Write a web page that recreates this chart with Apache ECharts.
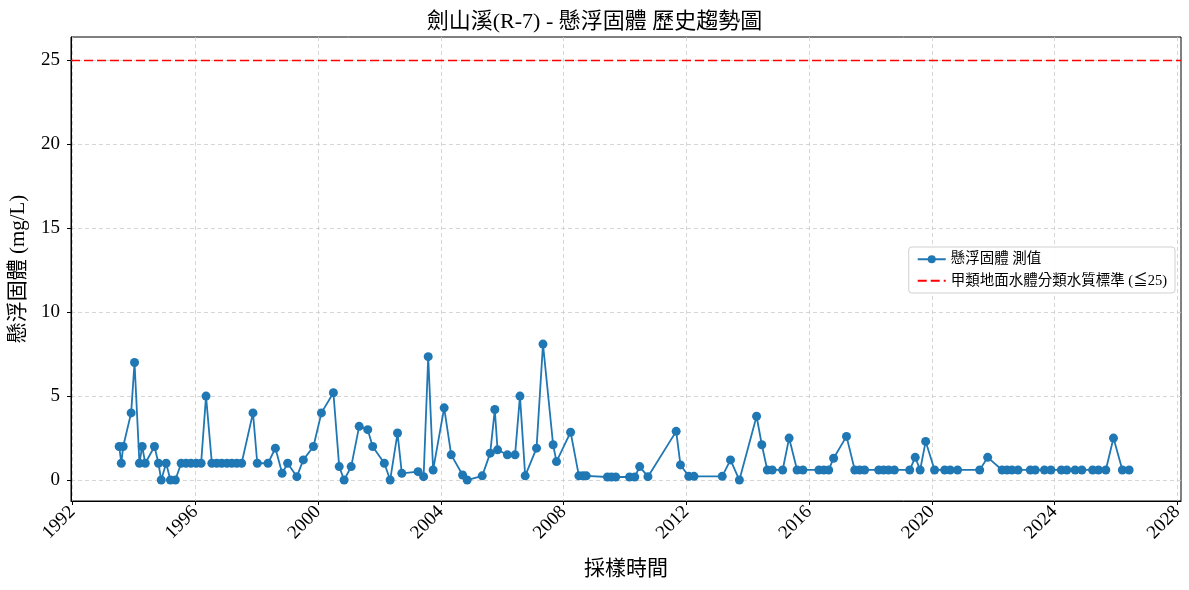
<!DOCTYPE html>
<html lang="zh-Hant">
<head>
    <meta charset="UTF-8">
    <title>劍山溪(R-7) - 懸浮固體 歷史趨勢圖</title>
    <script src="https://cdn.jsdelivr.net/npm/echarts@6.0.0/dist/echarts.min.js"></script>
    <style>
        html, body { margin: 0; padding: 0; background: #fff; }
        #chart { width: 1189px; height: 590px; }
    </style>
</head>
<body>
<div id="chart"></div>
<script>
    // 採樣時間 (以年份小數表示) 與 懸浮固體 測值 (mg/L)
    var sampleYears = [
        1993.52, 1993.59, 1993.65, 1993.91, 1994.02, 1994.18, 1994.27, 1994.37, 1994.67, 1994.80,
        1994.89, 1995.05, 1995.19, 1995.35, 1995.54, 1995.70, 1995.86, 1996.03, 1996.19, 1996.35,
        1996.54, 1996.70, 1996.86, 1997.03, 1997.19, 1997.35, 1997.51, 1997.88, 1998.02, 1998.37,
        1998.61, 1998.83, 1999.01, 1999.31, 1999.52, 1999.85, 2000.11, 2000.50, 2000.69, 2000.85,
        2001.08, 2001.34, 2001.62, 2001.78, 2002.16, 2002.35, 2002.59, 2002.73, 2003.26, 2003.44,
        2003.59, 2003.75, 2004.11, 2004.34, 2004.71, 2004.86, 2005.35, 2005.61, 2005.76, 2005.85,
        2006.17, 2006.42, 2006.58, 2006.75, 2007.12, 2007.33, 2007.66, 2007.77, 2008.23, 2008.50,
        2008.63, 2008.74, 2009.43, 2009.56, 2009.70, 2010.15, 2010.32, 2010.48, 2010.75, 2011.67,
        2011.81, 2012.08, 2012.25, 2013.17, 2013.44, 2013.73, 2014.29, 2014.46, 2014.64, 2014.80,
        2015.14, 2015.35, 2015.61, 2015.80, 2016.32, 2016.48, 2016.64, 2016.80, 2017.22, 2017.49,
        2017.65, 2017.81, 2018.27, 2018.43, 2018.59, 2018.78, 2019.28, 2019.46, 2019.62, 2019.80,
        2020.09, 2020.42, 2020.60, 2020.84, 2021.56, 2021.82, 2022.29, 2022.45, 2022.61, 2022.81,
        2023.21, 2023.37, 2023.67, 2023.88, 2024.22, 2024.40, 2024.67, 2024.89, 2025.24, 2025.43,
        2025.67, 2025.92, 2026.21, 2026.43
    ];
    var ssValues = [
        2.0, 1.0, 2.0, 4.0, 7.0, 1.0, 2.0, 1.0, 2.0, 1.0,
        0, 1.0, 0, 0, 1.0, 1.0, 1.0, 1.0, 1.0, 5.0,
        1.0, 1.0, 1.0, 1.0, 1.0, 1.0, 1.0, 4.0, 1.0, 1.0,
        1.9, 0.4, 1.0, 0.2, 1.2, 2.0, 4.0, 5.2, 0.8, 0,
        0.8, 3.2, 3.0, 2.0, 1.0, 0, 2.8, 0.4, 0.5, 0.2,
        7.35, 0.6, 4.3, 1.5, 0.3, 0, 0.25, 1.6, 4.2, 1.8,
        1.5, 1.5, 5.0, 0.25, 1.9, 8.1, 2.1, 1.1, 2.85, 0.25,
        0.25, 0.25, 0.18, 0.18, 0.18, 0.18, 0.18, 0.8, 0.2, 2.9,
        0.9, 0.22, 0.22, 0.22, 1.2, 0, 3.8, 2.1, 0.6, 0.6,
        0.6, 2.5, 0.6, 0.6, 0.6, 0.6, 0.6, 1.3, 2.6, 0.6,
        0.6, 0.6, 0.6, 0.6, 0.6, 0.6, 0.6, 1.35, 0.6, 2.3,
        0.6, 0.6, 0.6, 0.6, 0.6, 1.35, 0.6, 0.6, 0.6, 0.6,
        0.6, 0.6, 0.6, 0.6, 0.6, 0.6, 0.6, 0.6, 0.6, 0.6,
        0.6, 2.5, 0.6, 0.6
    ];
    var standardValue = 25;
    var xTicks = [1992, 1996, 2000, 2004, 2008, 2012, 2016, 2020, 2024, 2028];
    var yTicks = [0, 5, 10, 15, 20, 25];
    var xRange = [1991.95, 2028.12];
    var yRange = [-1.25, 26.4];

    var seriesName = '懸浮固體 測值';
    var standardName = '甲類地面水體分類水質標準 (≦25)';
    var fontFamily = '"Liberation Serif", "Noto Sans CJK TC", serif';

    var chart = echarts.init(document.getElementById('chart'));

    var measured = sampleYears.map(function (y, i) { return [y, ssValues[i]]; });
    var standardLine = xRange.map(function (x) { return [x, standardValue]; });

    chart.setOption({
        animation: false,
        backgroundColor: '#fff',
        textStyle: {fontFamily: fontFamily},
        title: {
            text: '劍山溪(R-7) - 懸浮固體 歷史趨勢圖',
            left: 'center',
            top: 6,
            textStyle: {fontFamily: fontFamily, fontSize: 22, fontWeight: 'normal', color: '#000'}
        },
        grid: {
            left: 70, right: 8, top: 37, bottom: 89,
            show: true, borderColor: '#000', borderWidth: 1
        },
        legend: {
            orient: 'vertical',
            right: 14,
            top: 247,
            itemWidth: 28,
            itemHeight: 10,
            itemGap: 7,
            padding: [5, 8, 5, 8],
            borderColor: '#d0d0d0',
            borderWidth: 1,
            borderRadius: 3,
            backgroundColor: 'rgba(255,255,255,0.9)',
            align: 'left',
            textStyle: {fontFamily: fontFamily, fontSize: 14.5, color: '#000'},
            data: [
                {name: seriesName},
                {name: standardName, itemStyle: {opacity: 0}}
            ]
        },
        xAxis: {
            type: 'value',
            min: xRange[0],
            max: xRange[1],
            name: '採樣時間',
            nameLocation: 'middle',
            nameGap: 58,
            nameTextStyle: {fontFamily: fontFamily, fontSize: 21, color: '#000'},
            axisLine: {show: true, onZero: false, lineStyle: {color: '#000', width: 1}},
            axisTick: {show: true, length: 4, customValues: xTicks, lineStyle: {color: '#000'}},
            axisLabel: {
                customValues: xTicks,
                formatter: function (v) { return String(Math.round(v)); },
                rotate: 45,
                margin: 8,
                fontSize: 19,
                color: '#000',
                fontFamily: fontFamily
            },
            splitLine: {show: true, lineStyle: {color: '#cccccc', width: 0.8, type: [4, 3]}}
        },
        yAxis: {
            type: 'value',
            min: yRange[0],
            max: yRange[1],
            name: '懸浮固體 (mg/L)',
            nameLocation: 'middle',
            nameGap: 42,
            nameTextStyle: {fontFamily: fontFamily, fontSize: 21, color: '#000'},
            axisLine: {show: true, onZero: false, lineStyle: {color: '#000', width: 1}},
            axisTick: {show: true, length: 4, customValues: yTicks, lineStyle: {color: '#000'}},
            axisLabel: {
                customValues: yTicks,
                margin: 11,
                fontSize: 19,
                color: '#000',
                fontFamily: fontFamily
            },
            splitLine: {show: true, lineStyle: {color: '#cccccc', width: 0.8, type: [4, 3]}}
        },
        series: [
            {
                name: seriesName,
                type: 'line',
                data: measured,
                symbol: 'circle',
                symbolSize: 9,
                showAllSymbol: true,
                color: '#1f77b4',
                lineStyle: {width: 1.8, color: '#1f77b4'},
                itemStyle: {color: '#1f77b4'},
                z: 3
            },
            {
                name: standardName,
                type: 'line',
                data: standardLine,
                symbol: 'none',
                color: '#ff0000',
                lineStyle: {width: 1.6, color: '#ff0000', type: [9, 4]},
                z: 2
            }
        ]
    });
</script>
</body>
</html>
